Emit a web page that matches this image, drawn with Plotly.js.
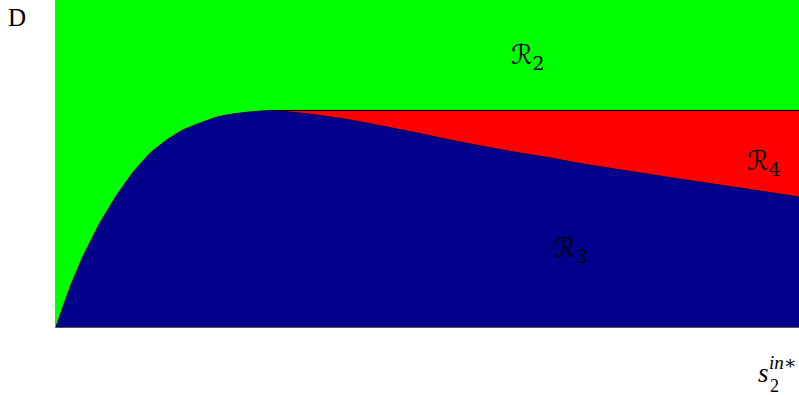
<!DOCTYPE html>
<html>
<head>
<meta charset="utf-8">
<script src="https://cdn.plot.ly/plotly-3.0.1.min.js"></script>
<style>
  html, body { margin: 0; padding: 0; background: #fff; }
  #chart { width: 799px; height: 395px; }
</style>
</head>
<body>
<div id="chart"></div>
<script>
// boundary curve between R3 (below) and R2 / R4 (above)
const curveX = [0, 0.19, 0.36, 0.59, 0.82, 1.04, 1.27, 1.49, 1.71, 1.94, 2.17, 2.38, 2.61, 2.88,
                3.15, 3.51, 3.96, 4.40, 4.86, 5.30, 5.75, 6.20, 6.65, 7.05, 8.40, 9.74, 10];
const curveY = [0, 0.185, 0.323, 0.480, 0.610, 0.716, 0.804, 0.864, 0.910, 0.942, 0.970, 0.984, 0.993, 1.0,
                0.993, 0.979, 0.956, 0.927, 0.896, 0.864, 0.834, 0.806, 0.781, 0.755, 0.683, 0.614, 0.600];

// horizontal washout level D and where it starts (curve maximum)
const levelD = 1.0;
const peakX = 2.88;
const xMax = 10;
const yMax = 1.51;

const green = '#00ff00';
const red = '#ff0000';
const navy = '#00008b';
const textFont = { family: "'Liberation Serif', 'DejaVu Serif', serif", color: '#000' };
const calFont = { family: "'DejaVu Serif', 'DejaVu Sans', serif", color: '#000' };

const traces = [
    // R2: everything above
    {
        x: [0, xMax], y: [yMax, yMax],
        type: 'scatter', mode: 'lines',
        line: { width: 0, color: green },
        fill: 'tozeroy', fillcolor: green,
        hoverinfo: 'skip'
    },
    // R4: below D, right of the peak
    {
        x: [peakX, xMax], y: [levelD, levelD],
        type: 'scatter', mode: 'lines',
        line: { width: 1, color: '#000' },
        fill: 'tozeroy', fillcolor: red,
        hoverinfo: 'skip'
    },
    // R3: under the curve
    {
        x: curveX, y: curveY,
        type: 'scatter', mode: 'lines',
        line: { width: 1, color: '#000050', shape: 'spline', smoothing: 0.3 },
        fill: 'tozeroy', fillcolor: navy,
        hoverinfo: 'skip'
    }
];

const layout = {
    width: 799,
    height: 395,
    margin: { l: 56, r: 0, t: 0, b: 68 },
    paper_bgcolor: '#fff',
    plot_bgcolor: '#fff',
    showlegend: false,
    xaxis: {
        range: [0, xMax], showgrid: false, zeroline: false,
        showticklabels: false, ticks: '',
        showline: true, linecolor: '#555', linewidth: 1
    },
    yaxis: {
        range: [0, yMax], showgrid: false, zeroline: false,
        showticklabels: false, ticks: '',
        showline: true, linecolor: '#999', linewidth: 1
    },
    annotations: [
        { xref: 'paper', yref: 'paper', x: -0.052, y: 0.945, xanchor: 'center', yanchor: 'middle',
          text: 'D', showarrow: false, font: { ...textFont, size: 25 } },
        { xref: 'x', yref: 'y', x: 6.35, y: 1.25, xanchor: 'center', yanchor: 'middle',
          text: 'ℛ<sub>2</sub>', showarrow: false, font: { ...calFont, size: 27 } },
        { xref: 'x', yref: 'y', x: 6.93, y: 0.36, xanchor: 'center', yanchor: 'middle',
          text: 'ℛ<sub>3</sub>', showarrow: false, font: { ...calFont, size: 27 } },
        { xref: 'x', yref: 'y', x: 9.53, y: 0.76, xanchor: 'center', yanchor: 'middle',
          text: 'ℛ<sub>4</sub>', showarrow: false, font: { ...calFont, size: 27 } },
        // s_2^{in*}
        { xref: 'paper', yref: 'paper', x: 0.952, y: -0.14, xanchor: 'center', yanchor: 'middle',
          text: '<i>s</i>', showarrow: false, font: { ...textFont, size: 27 } },
        { xref: 'paper', yref: 'paper', x: 0.967, y: -0.18, xanchor: 'center', yanchor: 'middle',
          text: '2', showarrow: false, font: { ...textFont, size: 18 } },
        { xref: 'paper', yref: 'paper', x: 1.0, y: -0.108, xanchor: 'right', yanchor: 'middle',
          text: '<i>in</i>∗', showarrow: false, font: { ...textFont, size: 19 } }
    ]
};

Plotly.newPlot('chart', traces, layout, { displayModeBar: false, staticPlot: true });
</script>
</body>
</html>
